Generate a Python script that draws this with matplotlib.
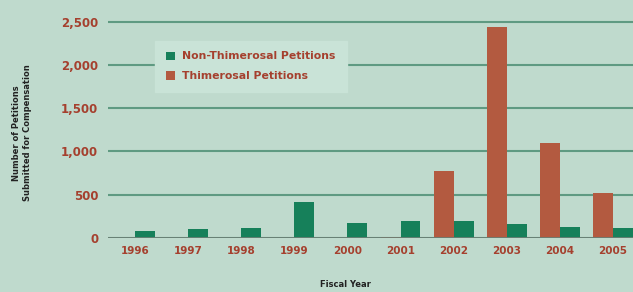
import numpy as np
import matplotlib.pyplot as plt

years = ['1996', '1997', '1998', '1999', '2000', '2001', '2002', '2003', '2004', '2005']
non_thimerosal = [84, 107, 119, 411, 176, 196, 196, 161, 123, 112]
thimerosal = [0, 0, 0, 0, 0, 10, 772, 2442, 1102, 515]

bg = '#bfdacd'
green = '#16805a'
red = '#b35a40'
tick_red = '#a5402e'

fig = plt.figure(figsize=(6.33, 2.92), dpi=100, facecolor=bg)
ax = fig.add_axes([0.1706, 0.185, 0.8294, 0.815], facecolor=bg)

x = np.arange(len(years))
w = 0.375
ax.bar(x - w / 2, thimerosal, w, color=red, label='Thimerosal Petitions', zorder=3)
ax.bar(x + w / 2, non_thimerosal, w, color=green, label='Non-Thimerosal Petitions', zorder=3)

ax.set_xlim(-0.51, 9.377)
ax.set_ylim(0, 2750)
ax.set_yticks([0, 500, 1000, 1500, 2000, 2500])
ax.set_yticklabels(['0', '500', '1,000', '1,500', '2,000', '2,500'])
ax.set_xticks(x)
ax.set_xticklabels(years)
ax.tick_params(axis='x', length=0, labelsize=7.5, labelcolor=tick_red, pad=6)
ax.tick_params(axis='y', length=0, labelsize=8.5, labelcolor=tick_red, pad=7)
for lab in ax.get_xticklabels() + ax.get_yticklabels():
    lab.set_fontweight('bold')

ax.yaxis.grid(True, color='#5f9a82', linewidth=1.5, zorder=0)
for s in ax.spines.values():
    s.set_visible(False)
ax.axhline(0, color='#6a7f74', linewidth=2, zorder=4)

handles, labels = ax.get_legend_handles_labels()
leg = ax.legend(handles[::-1], labels[::-1], loc='upper left',
                bbox_to_anchor=(0.08, 0.852), frameon=True, fancybox=False,
                facecolor='#c9e3d7', edgecolor='#c9e3d7', framealpha=1,
                handlelength=0.8, handleheight=0.8, borderpad=1.0,
                labelspacing=0.9, handletextpad=0.7, fontsize=7.8)
for t in leg.get_texts():
    t.set_color(tick_red)
    t.set_fontweight('bold')

fig.text(0.035, 0.545, 'Number of Petitions\nSubmitted for Compensation', rotation=90,
         ha='center', va='center', fontsize=6, fontweight='bold', color='#222222')
fig.text(0.545, 0.025, 'Fiscal Year', ha='center', va='center', fontsize=6,
         fontweight='bold', color='#222222')

fig.savefig('out.png', dpi=100, facecolor=bg)
